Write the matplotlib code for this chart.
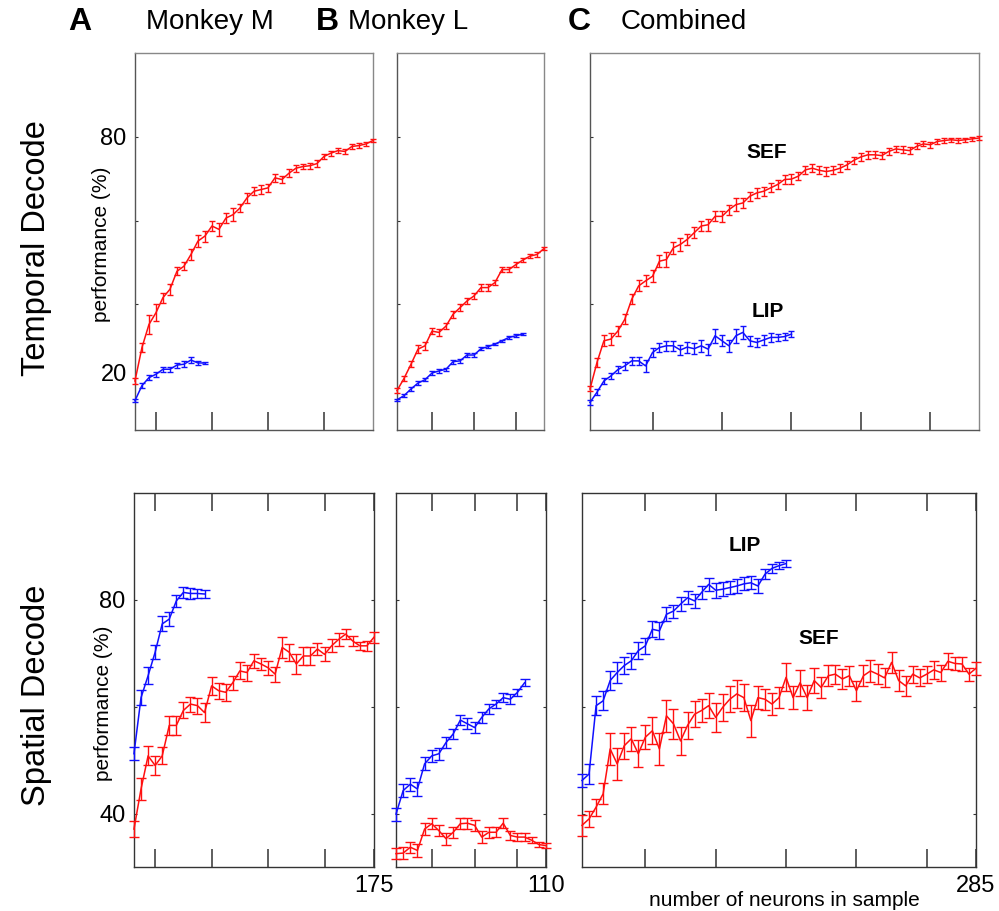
import matplotlib
matplotlib.use('Agg')
import matplotlib.pyplot as plt
import numpy as np

plt.rcParams['font.family'] = ['Liberation Sans', 'DejaVu Sans']

# sample sizes (neurons), step of 5
n_a_sef = np.arange(5, 176, 5)
n_a_lip = np.arange(5, 56, 5)
n_b_sef = np.arange(5, 111, 5)
n_b_lip = np.arange(5, 96, 5)
n_c_sef = np.arange(5, 286, 5)
n_c_lip = np.arange(5, 151, 5)

# ---- temporal decode ----
temp_a_sef = [21.7, 29.7, 35.2, 38.0, 41.6, 43.6, 47.9, 49.1, 51.9, 55.1, 56.3, 58.7,
              57.9, 60.6, 61.4, 63.0, 65.4, 67.0, 67.4, 67.8, 70.2, 69.8, 71.3, 72.5,
              72.9, 73.1, 73.6, 75.3, 76.1, 76.7, 76.5, 77.7, 77.9, 78.3, 79.1]
temp_a_sef_err = [0.8, 1.0, 2.2, 2.0, 1.2, 1.3, 1.0, 1.0, 1.2, 1.5, 1.3, 1.2, 1.6, 1.2,
                  1.6, 1.0, 1.2, 1.0, 1.0, 0.9, 0.9, 0.8, 0.9, 0.8, 0.7, 0.7, 0.8, 0.7,
                  0.6, 0.6, 0.6, 0.5, 0.5, 0.4, 0.3]
temp_a_lip = [17.0, 20.6, 22.5, 23.3, 24.5, 24.5, 25.5, 25.7, 26.7, 26.0, 26.0]
temp_a_lip_err = [0.4, 0.5, 0.6, 0.6, 0.6, 0.6, 0.6, 0.7, 0.8, 0.5, 0.3]

temp_b_sef = [19.4, 22.3, 25.7, 29.3, 30.1, 33.6, 33.3, 34.8, 37.6, 39.2, 40.8,
              42.0, 44.0, 44.0, 45.2, 48.3, 48.3, 49.5, 50.6, 51.5, 51.9, 53.3]
temp_b_sef_err = [0.6, 0.7, 0.7, 0.9, 0.9, 0.8, 0.9, 0.8, 0.9, 0.8, 0.7,
                  0.7, 0.8, 0.8, 0.7, 0.6, 0.6, 0.6, 0.5, 0.5, 0.5, 0.4]
temp_b_lip = [17.2, 18.2, 19.8, 21.2, 22.0, 23.6, 24.1, 24.5, 26.3, 26.5, 27.9,
              27.9, 29.4, 29.9, 30.5, 31.3, 32.1, 32.5, 32.9]
temp_b_lip_err = [0.3, 0.4, 0.4, 0.4, 0.4, 0.5, 0.5, 0.4, 0.5, 0.4, 0.5,
                  0.4, 0.4, 0.4, 0.3, 0.3, 0.3, 0.3, 0.3]

temp_c_sef = [19.8, 26.1, 31.3, 31.7, 33.6, 36.4, 41.2, 44.4, 45.6, 46.7, 50.3, 50.7,
              53.5, 54.3, 55.5, 57.1, 58.7, 59.0, 61.0, 61.0, 62.6, 63.8, 64.2, 65.8,
              66.6, 67.0, 67.8, 68.6, 69.8, 69.9, 70.6, 72.1, 72.5, 72.0, 71.7, 72.0,
              72.5, 73.3, 74.4, 75.2, 75.7, 75.7, 75.5, 76.5, 77.1, 76.9, 76.7, 77.7,
              78.3, 78.1, 78.9, 79.1, 79.3, 79.1, 79.3, 79.5, 79.7]
temp_c_sef_err = [0.6, 1.0, 1.3, 1.4, 1.2, 1.2, 1.2, 1.3, 1.3, 1.4, 1.5, 1.8,
                  1.5, 1.6, 1.4, 1.3, 1.2, 1.4, 1.2, 1.3, 1.2, 1.5, 1.2, 1.1,
                  1.2, 1.1, 1.1, 1.0, 1.1, 1.1, 1.0, 1.0, 1.0, 1.0, 1.1, 1.0,
                  0.9, 0.9, 0.8, 0.9, 0.9, 0.8, 0.9, 0.8, 0.7, 0.8, 0.8, 0.7,
                  0.6, 0.7, 0.6, 0.6, 0.5, 0.6, 0.5, 0.5, 0.4]
temp_c_lip = [16.6, 19.0, 21.7, 22.9, 24.4, 25.3, 26.5, 26.5, 25.3, 28.5, 29.7, 30.1,
              30.1, 29.1, 29.8, 29.4, 30.1, 29.3, 32.5, 31.3, 30.1, 32.5, 33.3, 31.3,
              30.9, 31.5, 32.1, 32.1, 32.3, 32.9]
temp_c_lip_err = [0.6, 0.7, 0.8, 0.8, 0.8, 0.9, 1.0, 1.0, 1.4, 1.0, 1.1, 1.2,
                  1.2, 1.3, 1.3, 1.3, 1.4, 1.3, 1.7, 1.3, 1.5, 1.7, 1.5, 1.2,
                  1.1, 1.1, 1.0, 0.9, 0.9, 0.8]

# ---- spatial decode ----
spat_a_sef = [37.1, 44.6, 50.8, 49.0, 50.8, 56.5, 56.5, 59.3, 60.5, 60.2, 58.9, 63.9,
              63.0, 62.7, 64.5, 66.7, 66.4, 68.6, 68.0, 67.3, 66.1, 71.1, 70.2, 68.0,
              69.5, 69.5, 70.8, 69.8, 71.4, 72.6, 73.6, 72.3, 71.4, 71.4, 73.0]
spat_a_sef_err = [1.5, 2.0, 1.8, 1.8, 1.6, 1.8, 1.7, 1.5, 1.4, 1.5, 1.8, 1.7,
                  1.5, 1.6, 1.3, 1.6, 1.5, 1.3, 1.2, 1.3, 1.4, 1.9, 1.6, 1.9,
                  1.6, 1.6, 1.1, 1.3, 1.2, 1.2, 0.9, 1.0, 0.8, 0.9, 1.0]
spat_a_lip = [51.2, 61.7, 65.8, 70.2, 75.5, 76.4, 79.8, 81.4, 81.2, 81.2, 81.1]
spat_a_lip_err = [1.2, 1.4, 1.6, 1.3, 1.4, 1.3, 1.2, 1.1, 1.0, 0.9, 0.8]

spat_b_sef = [32.5, 32.6, 33.7, 33.1, 37.1, 38.1, 36.8, 35.3, 36.5, 38.1, 38.2,
              37.8, 35.6, 36.5, 36.5, 38.2, 35.9, 35.6, 35.6, 35.0, 34.2, 34.0]
spat_b_sef_err = [1.0, 1.1, 1.0, 1.2, 1.1, 1.0, 1.0, 1.1, 1.0, 1.0, 1.0,
                  1.0, 1.1, 1.0, 0.9, 0.9, 0.8, 0.8, 0.8, 0.6, 0.5, 0.4]
spat_b_lip = [39.9, 44.3, 45.5, 44.6, 49.3, 50.8, 51.2, 53.3, 54.9, 57.5, 56.8,
              56.1, 58.0, 59.6, 60.5, 61.7, 61.4, 62.7, 64.5]
spat_b_lip_err = [1.2, 1.2, 1.2, 1.3, 1.2, 1.1, 1.1, 1.1, 1.0, 1.0, 1.0,
                  1.1, 1.0, 0.9, 0.8, 0.8, 0.9, 0.7, 0.6]

spat_c_sef = [37.8, 39.0, 41.2, 43.7, 52.1, 49.3, 52.7, 54.0, 51.2, 54.3, 55.5, 52.1,
              58.3, 56.8, 53.6, 56.5, 58.6, 59.3, 60.2, 58.0, 59.9, 61.4, 62.4, 61.7,
              57.4, 61.7, 61.4, 60.5, 61.7, 65.5, 61.7, 64.5, 61.7, 64.9, 63.6, 65.8,
              66.1, 65.2, 65.8, 63.0, 65.8, 66.7, 66.1, 65.4, 68.3, 64.9, 63.9, 66.1,
              65.4, 66.1, 66.9, 66.4, 68.5, 68.1, 68.0, 66.1, 67.2]
spat_c_sef_err = [2.0, 1.5, 1.6, 2.0, 3.0, 3.0, 2.4, 2.2, 2.5, 2.3, 2.5, 3.0,
                  3.0, 2.8, 2.6, 2.5, 2.4, 2.2, 2.3, 2.7, 2.5, 2.4, 2.6, 2.5,
                  3.0, 2.2, 2.0, 2.0, 2.0, 2.6, 2.2, 2.4, 2.3, 2.3, 2.0, 2.0,
                  1.8, 1.8, 1.9, 1.9, 2.0, 2.0, 1.9, 1.8, 1.9, 1.9, 1.8, 1.6,
                  1.6, 1.6, 1.7, 1.5, 1.5, 1.3, 1.3, 1.2, 1.2]
spat_c_lip = [46.2, 47.4, 60.2, 61.1, 64.9, 66.4, 67.7, 68.6, 70.5, 71.4, 74.5, 74.2,
              77.3, 77.9, 79.2, 80.4, 79.8, 81.4, 82.9, 81.8, 82.0, 82.3, 82.6, 83.0,
              83.2, 82.6, 84.8, 85.9, 86.4, 86.8]
spat_c_lip_err = [1.3, 1.8, 1.8, 1.8, 1.8, 1.9, 1.6, 1.5, 1.6, 1.5, 1.5, 1.6,
                  1.3, 1.2, 1.3, 1.2, 1.3, 1.2, 1.2, 1.4, 1.3, 1.2, 1.3, 1.2,
                  1.2, 1.3, 0.9, 0.8, 0.7, 0.6]

RED = '#ff1010'
BLUE = '#1010ff'

fig = plt.figure(figsize=(9.99, 9.11), dpi=100)

# axes rectangles (left, bottom, width, height) in figure fractions
top_rects = [(0.1351, 0.528, 0.2382, 0.4138),
             (0.3974, 0.528, 0.1471, 0.4138),
             (0.5906, 0.528, 0.3894, 0.4138)]
bot_rects = [(0.1341, 0.0483, 0.2402, 0.4105),
             (0.3964, 0.0483, 0.1502, 0.4105),
             (0.5826, 0.0483, 0.3944, 0.4105)]
x_max = [175, 110, 285]
x_ticks = [[20, 60, 100, 140], [30, 60, 90], [50, 100, 150, 200, 250]]

top_data = [(n_a_sef, temp_a_sef, temp_a_sef_err, n_a_lip, temp_a_lip, temp_a_lip_err),
            (n_b_sef, temp_b_sef, temp_b_sef_err, n_b_lip, temp_b_lip, temp_b_lip_err),
            (n_c_sef, temp_c_sef, temp_c_sef_err, n_c_lip, temp_c_lip, temp_c_lip_err)]
bot_data = [(n_a_sef, spat_a_sef, spat_a_sef_err, n_a_lip, spat_a_lip, spat_a_lip_err),
            (n_b_sef, spat_b_sef, spat_b_sef_err, n_b_lip, spat_b_lip, spat_b_lip_err),
            (n_c_sef, spat_c_sef, spat_c_sef_err, n_c_lip, spat_c_lip, spat_c_lip_err)]


def draw(ax, d, cap):
    xs, ys, es, xl, yl, el = d
    ax.errorbar(xl, yl, yerr=el, color=BLUE, lw=1.1, elinewidth=1.0, capsize=cap,
                capthick=1.0, clip_on=False, zorder=3)
    ax.errorbar(xs, ys, yerr=es, color=RED, lw=1.1, elinewidth=1.0, capsize=cap,
                capthick=1.0, clip_on=False, zorder=3)


top_axes = []
for i in range(3):
    ax = fig.add_axes(top_rects[i])
    draw(ax, top_data[i], 2.5)
    ax.set_xlim(5, x_max[i])
    ax.set_ylim(10, 100)
    ax.set_xticks(x_ticks[i])
    ax.set_xticklabels([])
    ax.tick_params(axis='x', direction='in', length=13, width=1.1, color='#333333',
                   bottom=True, top=False)
    ax.tick_params(axis='y', direction='in', length=2.5, width=0.8, color='#333333',
                   left=True, right=False, labelsize=17, pad=6)
    if i == 0:
        ax.set_yticks([23.7, 40, 60, 80])
        ax.set_yticklabels(['20', '', '', '80'])
        ax.yaxis.get_major_ticks()[0].tick1line.set_visible(False)
    else:
        ax.set_yticks([40, 60, 80])
        ax.set_yticklabels([])
    for s in ax.spines.values():
        s.set_color('#888888')
        s.set_linewidth(1.0)
    ax.spines['left'].set_color('#555555')
    ax.spines['bottom'].set_color('#555555')
    top_axes.append(ax)

bot_axes = []
for i in range(3):
    ax = fig.add_axes(bot_rects[i])
    draw(ax, bot_data[i], 3.5)
    ax.set_xlim(5, x_max[i])
    ax.set_ylim(30, 100)
    ax.set_xticks(x_ticks[i] + [x_max[i]])
    ax.set_xticklabels([''] * len(x_ticks[i]) + [str(x_max[i])])
    ax.tick_params(axis='x', direction='in', length=13, width=1.1, color='#333333',
                   bottom=True, top=True, labelsize=17, pad=6)
    ax.tick_params(axis='y', direction='in', length=2.5, width=0.8, color='#333333',
                   left=True, right=True, labelsize=17, pad=6)
    ax.set_yticks([40, 60, 80])
    if i == 0:
        ax.set_yticklabels(['40', '', '80'])
    else:
        ax.set_yticklabels([])
    for s in ax.spines.values():
        s.set_color('#333333')
        s.set_linewidth(1.0)
    bot_axes.append(ax)

# curve labels
top_axes[2].text(132, 76.2, 'SEF', fontsize=15, fontweight='bold', ha='center', va='center')
top_axes[2].text(133, 38.3, 'LIP', fontsize=15, fontweight='bold', ha='center', va='center')
bot_axes[2].text(121, 90.1, 'LIP', fontsize=15, fontweight='bold', ha='center', va='center')
bot_axes[2].text(173, 72.7, 'SEF', fontsize=15, fontweight='bold', ha='center', va='center')

# column headings
fig.text(0.080, 0.976, 'A', fontsize=23, fontweight='bold', ha='center', va='center')
fig.text(0.210, 0.976, 'Monkey M', fontsize=20, ha='center', va='center')
fig.text(0.328, 0.976, 'B', fontsize=23, fontweight='bold', ha='center', va='center')
fig.text(0.408, 0.976, 'Monkey L', fontsize=20, ha='center', va='center')
fig.text(0.580, 0.976, 'C', fontsize=23, fontweight='bold', ha='center', va='center')
fig.text(0.684, 0.976, 'Combined', fontsize=20, ha='center', va='center')

# row headings
fig.text(0.037, 0.728, 'Temporal Decode', fontsize=23.5, rotation=90, ha='center', va='center')
fig.text(0.037, 0.237, 'Spatial Decode', fontsize=23.5, rotation=90, ha='center', va='center')
fig.text(0.102, 0.732, 'performance (%)', fontsize=15, rotation=90, ha='center', va='center')
fig.text(0.104, 0.228, 'performance (%)', fontsize=15, rotation=90, ha='center', va='center')

fig.text(0.785, 0.012, 'number of neurons in sample', fontsize=15, ha='center', va='center')

fig.savefig('out.png', dpi=100)
